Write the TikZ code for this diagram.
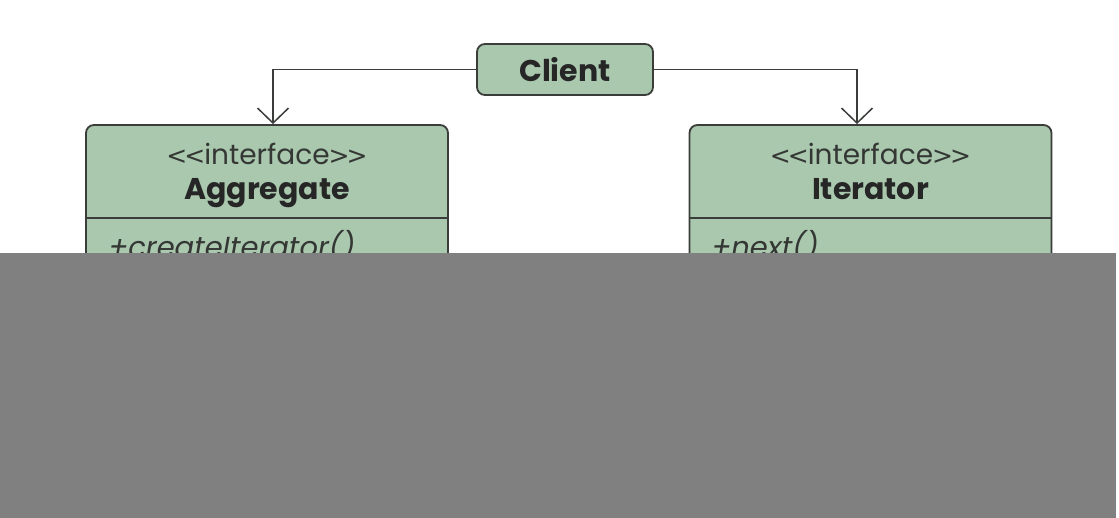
\documentclass[tikz,border=0pt]{standalone}
\usepackage{fontspec}
\setmainfont{Poppins}
\newfontfamily\bracketfont{DejaVu Sans}
\usetikzlibrary{arrows.meta}
\definecolor{sage}{HTML}{A9C8AE}
\definecolor{edge}{HTML}{3A3D3A}
\definecolor{cover}{HTML}{808080}
\tikzset{
  box/.style={draw=edge, line width=1.8pt, fill=sage, rounded corners=8pt, inner sep=0pt},
  classbox/.style={box, minimum width=362pt, minimum height=355pt},
  link/.style={draw=edge, line width=1.5pt, -{Straight Barb[length=15pt,width=31pt,line width=1.5pt]}},
  stereo/.style={font=\fontsize{28}{32}\selectfont, text=edge!90!black, anchor=base},
  cname/.style={font=\fontsize{30}{34}\selectfont\bfseries, text=black!85, anchor=base},
  member/.style={font=\fontsize{29}{33}\selectfont\itshape, text=edge!90!black, anchor=base west}
}
% guillemet-free stereotype brackets
\newcommand{\stopen}{{\bracketfont\fontsize{25}{30}\selectfont <\kern-3pt<\kern-1pt}}
\newcommand{\stclose}{{\bracketfont\fontsize{25}{30}\selectfont \kern-1pt>\kern-3pt>}}
\begin{document}
\begin{tikzpicture}[x=1pt,y=-1pt]
  \useasboundingbox (0,0) rectangle (1119,518);
  \fill[white] (0,0) rectangle (1119,518);

  % client
  \node[box, minimum width=176pt, minimum height=51pt] (client) at (565,69.5) {};
  \node[cname] (clientlbl) at (565,82) {Client};

  % interfaces
  \node[classbox] (agg) at (267,302.5) {};
  \node[classbox] (itr) at (870.5,302.5) {};
  \draw[edge, line width=1.8pt] ([yshift=-94pt]agg.north west) -- ([yshift=-94pt]agg.north east);
  \draw[edge, line width=1.8pt] ([yshift=-94pt]itr.north west) -- ([yshift=-94pt]itr.north east);

  \node[stereo] (aggst) at (267,165) {\stopen interface\stclose};
  \node[cname] (aggnm) at (267,200) {Aggregate};
  \node[member] (aggm) at (105,258) {+createIterator()};

  \node[stereo] (itrst) at (870.5,165) {\stopen interface\stclose};
  \node[cname] (itrnm) at (870.5,200) {Iterator};
  \node[member] (itrm) at (708,258) {+next()};

  % dependencies
  \draw[link] (client.west) -| ([xshift=6pt]agg.north);
  \draw[link] (client.east) -| ([xshift=-13.5pt]itr.north);

  % lower cover
  \fill[cover] (0,253) rectangle (1116,518);
\end{tikzpicture}
\end{document}
